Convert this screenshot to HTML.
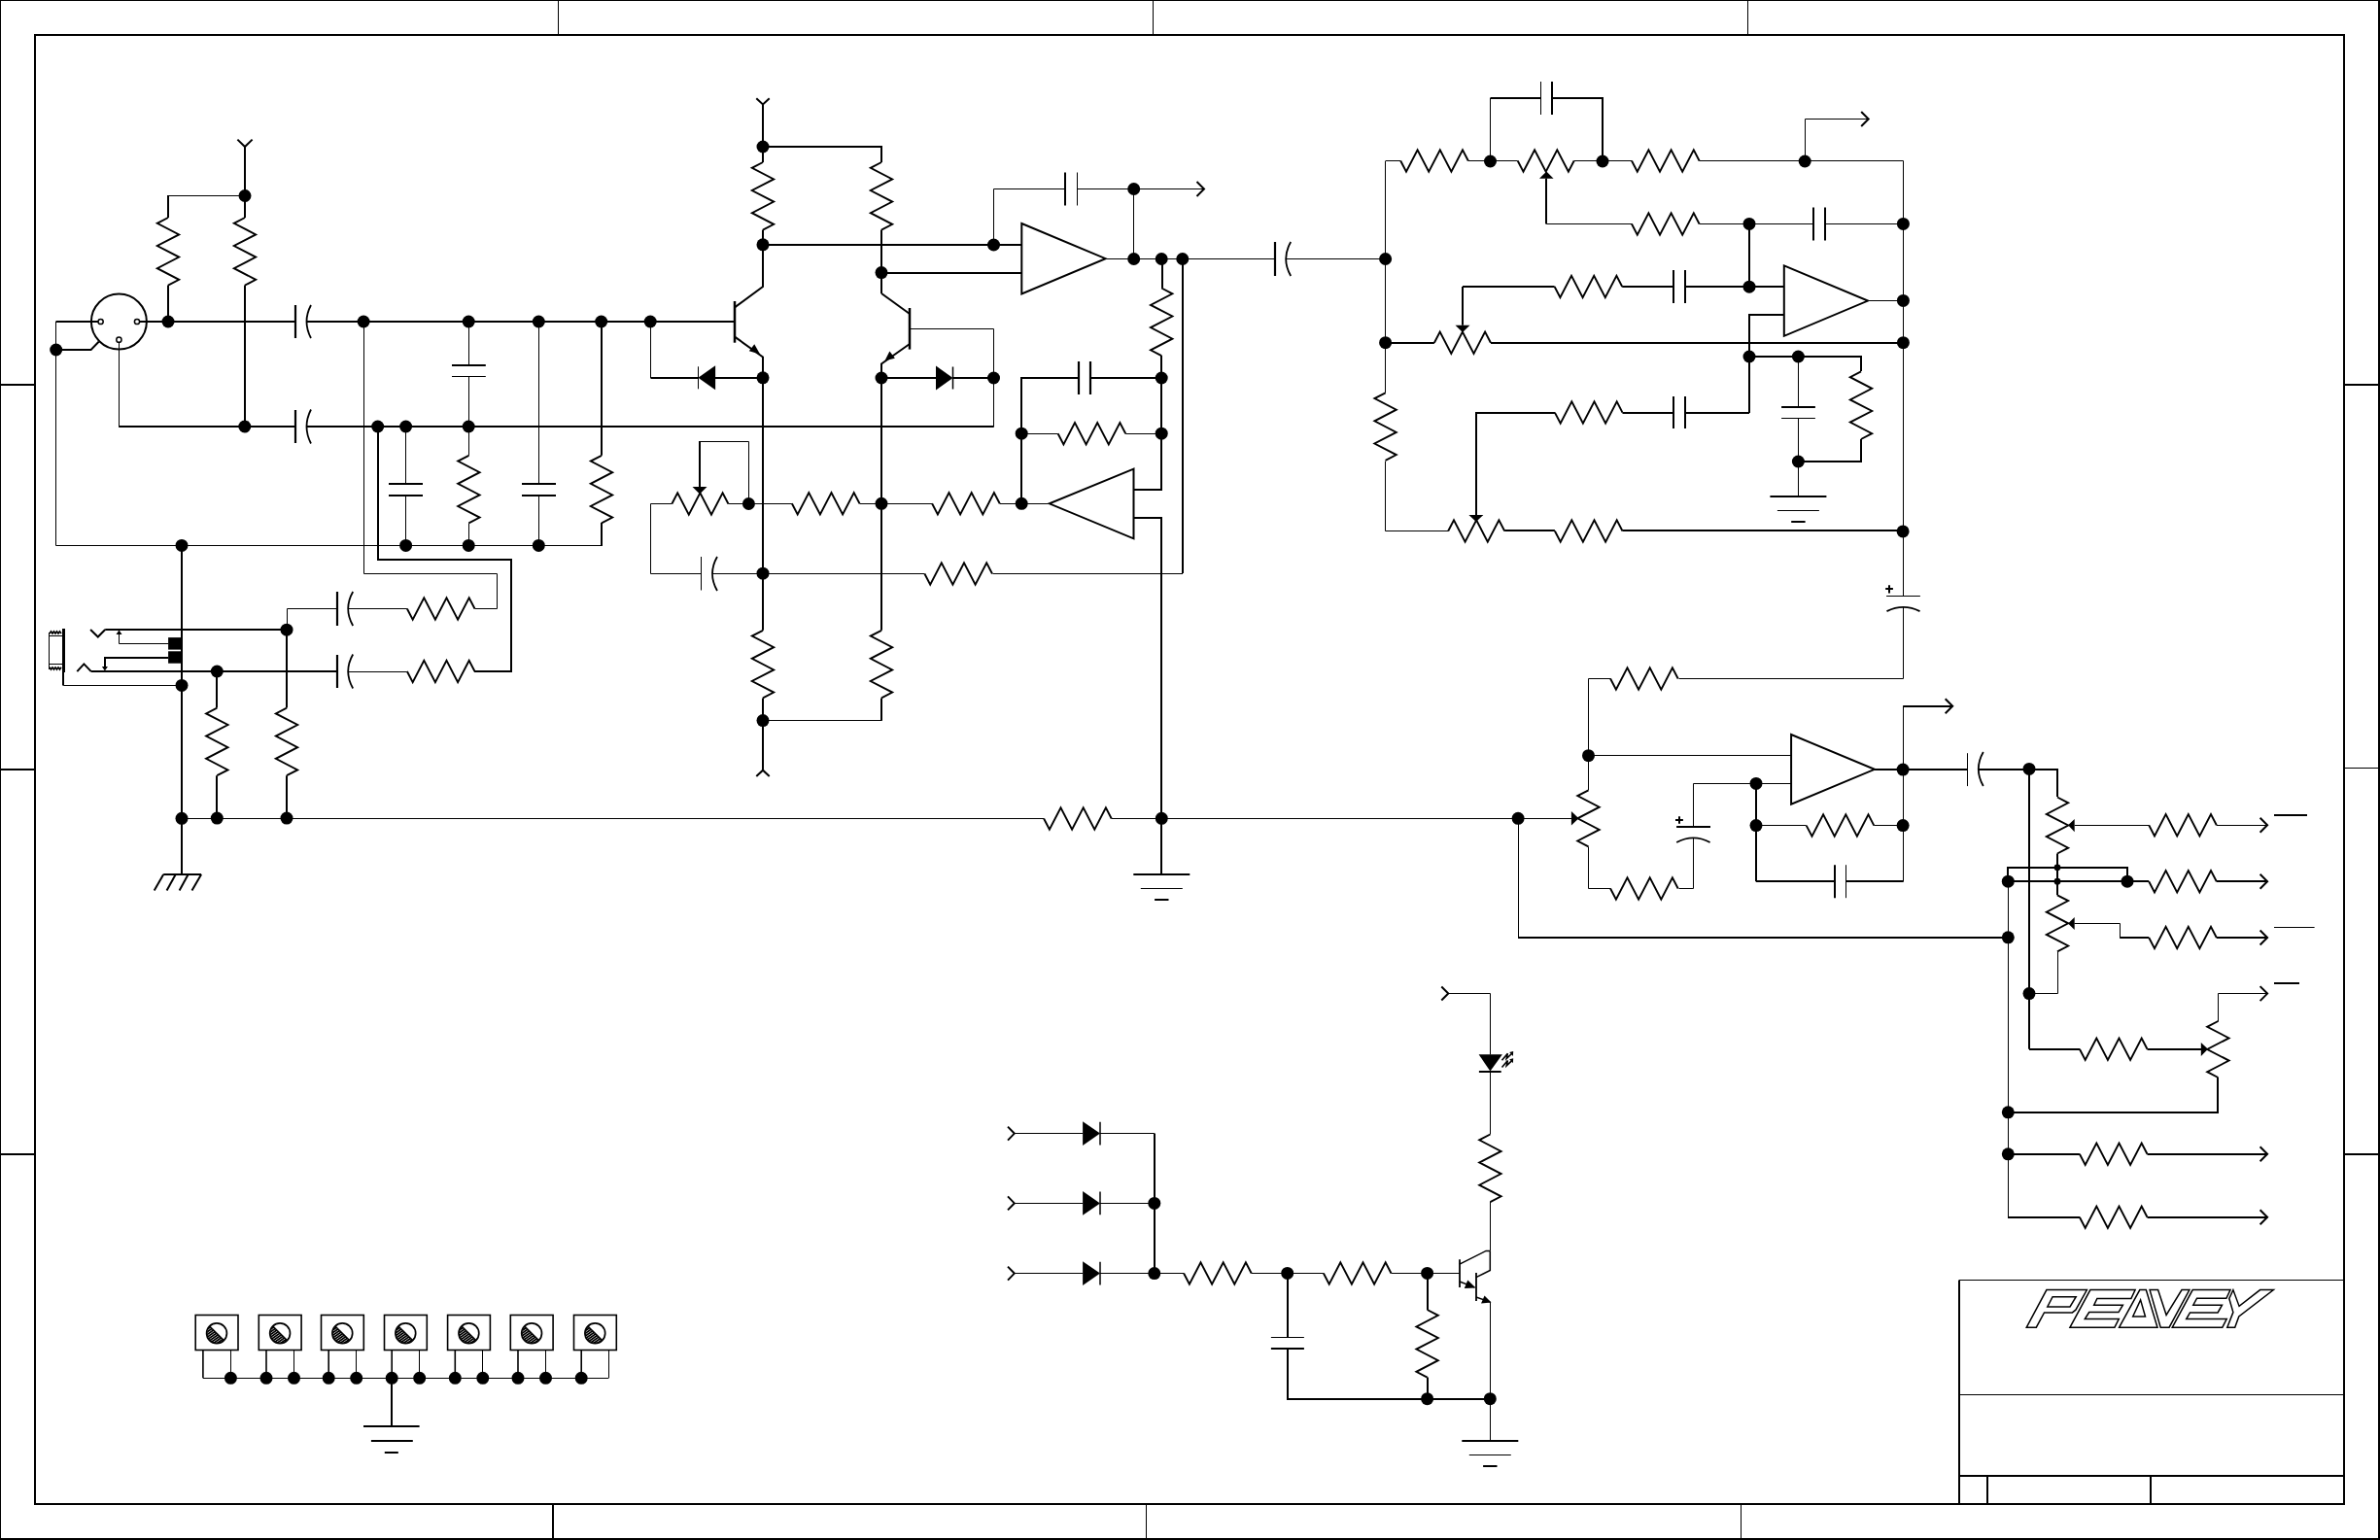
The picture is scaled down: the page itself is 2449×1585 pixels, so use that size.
<!DOCTYPE html>
<html><head><meta charset="utf-8"><title>Schematic</title>
<style>
html,body{margin:0;padding:0;background:#fff;font-family:"Liberation Sans",sans-serif;overflow:hidden;}
svg{display:block;}
</style></head>
<body>
<svg width="2449" height="1585" viewBox="0 0 2449 1585">
<defs>
<pattern id="hatch" patternUnits="userSpaceOnUse" width="2.2" height="2.2" patternTransform="rotate(-35)">
<rect width="2.2" height="2.2" fill="#000"/>
<line x1="0" y1="1.1" x2="2.2" y2="1.1" stroke="#fff" stroke-width="0.5"/>
</pattern>
</defs>
<rect x="0" y="0" width="2449" height="1585" fill="#fff"/>
<g stroke="#000" fill="none" stroke-linecap="butt" stroke-linejoin="miter">
<line x1="0" y1="0.5" x2="2449" y2="0.5" stroke-width="1"/>
<line x1="0.5" y1="0" x2="0.5" y2="1585" stroke-width="1"/>
<line x1="2448" y1="0" x2="2448" y2="1585" stroke-width="2"/>
<line x1="0" y1="1584" x2="2449" y2="1584" stroke-width="2"/>
<rect x="36" y="36" width="2376" height="1512" stroke-width="2" fill="none"/>
<line x1="574.5" y1="0" x2="574.5" y2="36" stroke-width="1"/>
<line x1="1186.5" y1="0" x2="1186.5" y2="36" stroke-width="1"/>
<line x1="1798.5" y1="0" x2="1798.5" y2="36" stroke-width="1"/>
<line x1="569" y1="1548" x2="569" y2="1585" stroke-width="2"/>
<line x1="1179.5" y1="1548" x2="1179.5" y2="1585" stroke-width="1"/>
<line x1="1791.5" y1="1548" x2="1791.5" y2="1585" stroke-width="1"/>
<line x1="0" y1="396" x2="36" y2="396" stroke-width="2"/>
<line x1="0" y1="792" x2="36" y2="792" stroke-width="2"/>
<line x1="0" y1="1188" x2="36" y2="1188" stroke-width="2"/>
<line x1="2412" y1="396" x2="2449" y2="396" stroke-width="2"/>
<line x1="2412" y1="790.5" x2="2449" y2="790.5" stroke-width="1"/>
<line x1="2412" y1="1188" x2="2449" y2="1188" stroke-width="2"/>
<polyline points="244.4,143.6 252,151 259.6,143.6" stroke-width="2"/>
<line x1="252" y1="151" x2="252" y2="224" stroke-width="2"/>
<circle cx="252" cy="201.5" r="6.5" fill="#000" stroke="none"/>
<polyline points="252.5,201.5 173.5,201.5" stroke-width="1"/>
<line x1="173" y1="201" x2="173" y2="224" stroke-width="2"/>
<polyline points="173,224 161.8,229.8 184.2,241.4 161.8,253 184.2,264.6 161.8,276.2 184.2,287.8 173,293.6" stroke-width="1.9"/>
<line x1="173" y1="293.6" x2="173" y2="331" stroke-width="2"/>
<polyline points="252,224 240.8,229.8 263.2,241.4 240.8,253 263.2,264.6 240.8,276.2 263.2,287.8 252,293.6" stroke-width="1.9"/>
<line x1="252" y1="293.6" x2="252" y2="439" stroke-width="2"/>
<circle cx="173" cy="331" r="6.5" fill="#000" stroke="none"/>
<circle cx="122.4" cy="331.1" r="28.5" stroke-width="2" fill="none"/>
<circle cx="103.6" cy="331" r="2.6" stroke-width="1.5" fill="#fff"/>
<circle cx="141" cy="331" r="2.6" stroke-width="1.5" fill="#fff"/>
<circle cx="122.4" cy="349.7" r="2.6" stroke-width="1.5" fill="#fff"/>
<line x1="143.6" y1="331" x2="304" y2="331" stroke-width="2"/>
<line x1="304" y1="314" x2="304" y2="348" stroke-width="2.2"/>
<path d="M320,314 Q311,331 320,348" stroke-width="1.8" fill="none"/>
<line x1="315.5" y1="331" x2="756" y2="331" stroke-width="2"/>
<line x1="101" y1="331" x2="57.5" y2="331" stroke-width="2"/>
<line x1="57.5" y1="331" x2="57.5" y2="561.5" stroke-width="1"/>
<circle cx="57.7" cy="360" r="6.5" fill="#000" stroke="none"/>
<polyline points="57.7,360 93.6,360 101.6,351.8" stroke-width="2"/>
<polyline points="122.5,352.5 122.5,439.5 303.5,439.5" stroke-width="1"/>
<line x1="122.5" y1="439" x2="303.6" y2="439" stroke-width="2"/>
<circle cx="251.8" cy="439" r="6.5" fill="#000" stroke="none"/>
<line x1="304" y1="422" x2="304" y2="456" stroke-width="2.2"/>
<path d="M320,421.5 Q311,439 320,456.5" stroke-width="1.8" fill="none"/>
<line x1="315.5" y1="439" x2="1022.5" y2="439" stroke-width="2"/>
<polyline points="374.5,331.5 374.5,590.5 511.5,590.5 511.5,626.5 488.5,626.5" stroke-width="1"/>
<circle cx="374.1" cy="331" r="6.5" fill="#000" stroke="none"/>
<polyline points="389,439 389,576 526,576 526,691 488,691" stroke-width="2"/>
<circle cx="388.7" cy="439" r="6.5" fill="#000" stroke="none"/>
<circle cx="417.6" cy="439" r="6.5" fill="#000" stroke="none"/>
<line x1="417.5" y1="439" x2="417.5" y2="498" stroke-width="1"/>
<line x1="400" y1="498" x2="435" y2="498" stroke-width="2"/>
<line x1="400" y1="510" x2="435" y2="510" stroke-width="2"/>
<line x1="417.5" y1="510" x2="417.5" y2="561.4" stroke-width="1"/>
<circle cx="417.6" cy="561.4" r="6.5" fill="#000" stroke="none"/>
<circle cx="482.2" cy="331" r="6.5" fill="#000" stroke="none"/>
<line x1="482.5" y1="331" x2="482.5" y2="375.7" stroke-width="1"/>
<line x1="465" y1="376" x2="499.8" y2="376" stroke-width="2"/>
<line x1="465" y1="387.5" x2="499.8" y2="387.5" stroke-width="1"/>
<line x1="482.5" y1="387" x2="482.5" y2="468.8" stroke-width="1"/>
<circle cx="482.2" cy="439" r="6.5" fill="#000" stroke="none"/>
<polyline points="482.4,468.8 471.2,474.6 493.6,486.2 471.2,497.8 493.6,509.4 471.2,521 493.6,532.6 482.4,538.4" stroke-width="1.9"/>
<line x1="482.5" y1="538.4" x2="482.5" y2="561.4" stroke-width="1"/>
<circle cx="482.2" cy="561.4" r="6.5" fill="#000" stroke="none"/>
<circle cx="554.3" cy="331" r="6.5" fill="#000" stroke="none"/>
<line x1="554.5" y1="331" x2="554.5" y2="498" stroke-width="1"/>
<line x1="537" y1="498" x2="572" y2="498" stroke-width="2"/>
<line x1="537" y1="510" x2="572" y2="510" stroke-width="2"/>
<line x1="554.5" y1="510" x2="554.5" y2="561.4" stroke-width="1"/>
<circle cx="554.3" cy="561.4" r="6.5" fill="#000" stroke="none"/>
<circle cx="618.7" cy="331" r="6.5" fill="#000" stroke="none"/>
<line x1="619" y1="331" x2="619" y2="468.8" stroke-width="2"/>
<polyline points="619,468.8 607.8,474.6 630.2,486.2 607.8,497.8 630.2,509.4 607.8,521 630.2,532.6 619,538.4" stroke-width="1.9"/>
<polyline points="619,538 619,562" stroke-width="2"/>
<line x1="57.5" y1="561.5" x2="619" y2="561.5" stroke-width="1"/>
<circle cx="187" cy="561.4" r="6.5" fill="#000" stroke="none"/>
<circle cx="669.2" cy="331" r="6.5" fill="#000" stroke="none"/>
<line x1="669.5" y1="331" x2="669.5" y2="389" stroke-width="1"/>
<line x1="669.5" y1="389" x2="718.4" y2="389" stroke-width="2"/>
<polygon points="736.1,376.3 718.4,388.8 736.1,401.3" fill="#000" stroke="none"/>
<line x1="718.5" y1="377.3" x2="718.5" y2="400.3" stroke-width="1"/>
<line x1="736" y1="389" x2="785" y2="389" stroke-width="2"/>
<circle cx="785" cy="388.8" r="6.5" fill="#000" stroke="none"/>
<line x1="756" y1="310" x2="756" y2="352.7" stroke-width="2.5"/>
<polyline points="756,316.4 785,295 785,251.8" stroke-width="2"/>
<polyline points="756,346.6 785,367.4 785,388.8" stroke-width="2"/>
<polygon points="782,364.6 770.8,361.3 776.3,354.3" fill="#000" stroke="none"/>
<line x1="785" y1="388.8" x2="785" y2="648.8" stroke-width="2"/>
<circle cx="785" cy="590.2" r="6.5" fill="#000" stroke="none"/>
<polyline points="785,648.8 773.8,654.6 796.2,666.2 773.8,677.8 796.2,689.4 773.8,701 796.2,712.6 785,718.4" stroke-width="1.9"/>
<line x1="785" y1="718.4" x2="785" y2="792.2" stroke-width="2"/>
<circle cx="785" cy="741.6" r="6.5" fill="#000" stroke="none"/>
<polyline points="778.3,799 785,792.7 791.7,799" stroke-width="2"/>
<polyline points="785.5,741.5 907.5,741.5 907.5,718.5" stroke-width="1"/>
<line x1="907" y1="718.4" x2="907" y2="741.6" stroke-width="2"/>
<polyline points="907,648.8 895.8,654.6 918.2,666.2 895.8,677.8 918.2,689.4 895.8,701 918.2,712.6 907,718.4" stroke-width="1.9"/>
<polyline points="778.3,101.2 785,107.5 791.7,101.2" stroke-width="2"/>
<line x1="785" y1="108" x2="785" y2="167" stroke-width="2"/>
<circle cx="785" cy="151" r="6.5" fill="#000" stroke="none"/>
<polyline points="785,167 773.8,172.8 796.2,184.4 773.8,196 796.2,207.6 773.8,219.2 796.2,230.8 785,236.6" stroke-width="1.9"/>
<line x1="785" y1="236.6" x2="785" y2="295" stroke-width="2"/>
<circle cx="785" cy="251.8" r="6.5" fill="#000" stroke="none"/>
<polyline points="785,151 907,151 907,167" stroke-width="2"/>
<polyline points="907,167 895.8,172.8 918.2,184.4 895.8,196 918.2,207.6 895.8,219.2 918.2,230.8 907,236.6" stroke-width="1.9"/>
<line x1="907" y1="236.6" x2="907" y2="302" stroke-width="2"/>
<circle cx="907" cy="280.6" r="6.5" fill="#000" stroke="none"/>
<line x1="936" y1="317" x2="936" y2="359.6" stroke-width="2.5"/>
<polyline points="907,302 936,323" stroke-width="2"/>
<polyline points="936,354 907,374.5 907,389" stroke-width="2"/>
<polygon points="910.5,371.3 915.4,361.6 920.9,368.7" fill="#000" stroke="none"/>
<polyline points="936.5,338.5 1022.5,338.5 1022.5,439.5" stroke-width="1"/>
<circle cx="907" cy="389" r="6.5" fill="#000" stroke="none"/>
<line x1="907" y1="389" x2="963" y2="389" stroke-width="2"/>
<polygon points="963,376.5 980.5,389 963,401.5" fill="#000" stroke="none"/>
<line x1="980.5" y1="377.5" x2="980.5" y2="400.5" stroke-width="1.5"/>
<line x1="980.5" y1="389" x2="1022.5" y2="389" stroke-width="2"/>
<circle cx="1022.5" cy="389" r="6.5" fill="#000" stroke="none"/>
<line x1="907" y1="389" x2="907" y2="648.8" stroke-width="2"/>
<circle cx="907" cy="518.3" r="6.5" fill="#000" stroke="none"/>
<circle cx="1022.5" cy="252" r="6.5" fill="#000" stroke="none"/>
<line x1="785" y1="252" x2="1051.3" y2="252" stroke-width="2"/>
<line x1="907" y1="281" x2="1051.3" y2="281" stroke-width="2"/>
<polygon points="1051.3,230 1137.6,266.2 1051.3,302.4" stroke-width="2"/>
<polyline points="1022.5,252.5 1022.5,194.5 1096.5,194.5" stroke-width="1"/>
<line x1="1096" y1="177.5" x2="1096" y2="211.5" stroke-width="2"/>
<line x1="1108.5" y1="177.5" x2="1108.5" y2="211.5" stroke-width="1"/>
<line x1="1108" y1="194.5" x2="1239" y2="194.5" stroke-width="1"/>
<polyline points="1231.5,187 1239,194.5 1231.5,202" stroke-width="2"/>
<circle cx="1166.7" cy="194.5" r="6.5" fill="#000" stroke="none"/>
<line x1="1166.5" y1="194.5" x2="1166.5" y2="266.5" stroke-width="1"/>
<line x1="1137.6" y1="266.5" x2="1312" y2="266.5" stroke-width="1"/>
<circle cx="1166.7" cy="266.5" r="6.5" fill="#000" stroke="none"/>
<circle cx="1195.2" cy="266.5" r="6.5" fill="#000" stroke="none"/>
<circle cx="1216.8" cy="266.5" r="6.5" fill="#000" stroke="none"/>
<line x1="1312" y1="249" x2="1312" y2="284" stroke-width="2.2"/>
<path d="M1328.2,249 Q1318.2,266.5 1328.2,284" stroke-width="1.8" fill="none"/>
<line x1="1323" y1="266.5" x2="1425.6" y2="266.5" stroke-width="1"/>
<circle cx="1425.6" cy="266.5" r="6.5" fill="#000" stroke="none"/>
<line x1="1196" y1="266.5" x2="1196" y2="296.5" stroke-width="2"/>
<polyline points="1195.2,296.5 1206.4,302.3 1184,313.9 1206.4,325.5 1184,337.1 1206.4,348.7 1184,360.3 1195.2,366.1" stroke-width="1.9"/>
<polyline points="1195,366 1195,504 1166,504" stroke-width="2"/>
<circle cx="1195.2" cy="389" r="6.5" fill="#000" stroke="none"/>
<circle cx="1195.2" cy="446.2" r="6.5" fill="#000" stroke="none"/>
<polyline points="1217,266 1217,590" stroke-width="2"/>
<line x1="1217" y1="590.5" x2="1021.5" y2="590.5" stroke-width="1"/>
<polyline points="951.4,590.5 957.2,601.7 968.8,579.3 980.4,601.7 992,579.3 1003.6,601.7 1015.2,579.3 1021,590.5" stroke-width="1.9"/>
<line x1="951.4" y1="590.5" x2="785" y2="590.5" stroke-width="1"/>
<polygon points="1166.5,482.6 1079.8,518.3 1166.5,554.3" stroke-width="2"/>
<polyline points="1166,533 1195,533 1195,842" stroke-width="2"/>
<line x1="1051.2" y1="518.5" x2="1079.8" y2="518.5" stroke-width="1"/>
<circle cx="1051.2" cy="518.3" r="6.5" fill="#000" stroke="none"/>
<polyline points="959.1,518.3 964.9,529.5 976.5,507.1 988.1,529.5 999.7,507.1 1011.3,529.5 1022.9,507.1 1028.7,518.3" stroke-width="1.9"/>
<line x1="1028.7" y1="518.5" x2="1051.2" y2="518.5" stroke-width="1"/>
<line x1="907" y1="518.5" x2="959.1" y2="518.5" stroke-width="1"/>
<polyline points="814.9,518.3 820.7,529.5 832.3,507.1 843.9,529.5 855.5,507.1 867.1,529.5 878.7,507.1 884.5,518.3" stroke-width="1.9"/>
<line x1="884.5" y1="518.5" x2="907" y2="518.5" stroke-width="1"/>
<line x1="770.4" y1="518.5" x2="814.9" y2="518.5" stroke-width="1"/>
<circle cx="770.4" cy="518.5" r="6.5" fill="#000" stroke="none"/>
<polyline points="1051,518 1051,389 1110,389" stroke-width="2"/>
<circle cx="1051.2" cy="446.2" r="6.5" fill="#000" stroke="none"/>
<line x1="1110" y1="372" x2="1110" y2="406" stroke-width="2.2"/>
<line x1="1122" y1="372" x2="1122" y2="406" stroke-width="2.2"/>
<line x1="1122" y1="389" x2="1195.2" y2="389" stroke-width="2"/>
<polyline points="1088.6,446.2 1094.4,457.4 1106,435 1117.6,457.4 1129.2,435 1140.8,457.4 1152.4,435 1158.2,446.2" stroke-width="1.9"/>
<line x1="1051.2" y1="446.5" x2="1088.6" y2="446.5" stroke-width="1"/>
<line x1="1158.2" y1="446.5" x2="1195.2" y2="446.5" stroke-width="1"/>
<polyline points="691.4,518.5 697.2,507.3 708.8,529.7 720.4,507.3 732,529.7 743.6,507.3 749.4,518.5" stroke-width="1.9"/>
<line x1="749.4" y1="518.5" x2="770.4" y2="518.5" stroke-width="1"/>
<polygon points="712.5,501 727.5,501 720,508.5" fill="#000" stroke="none"/>
<polyline points="720.5,501.5 720.5,454.5 770.5,454.5 770.5,518.5" stroke-width="1"/>
<line x1="720" y1="501" x2="720" y2="454" stroke-width="2"/>
<polyline points="691.5,518.5 669.5,518.5 669.5,590.5 721.5,590.5" stroke-width="1"/>
<line x1="721.5" y1="573" x2="721.5" y2="607.5" stroke-width="1"/>
<path d="M738,573 Q728,590.5 738,608" stroke-width="1.8" fill="none"/>
<line x1="733" y1="590.5" x2="785" y2="590.5" stroke-width="1"/>
<line x1="187" y1="561.4" x2="187" y2="900" stroke-width="2"/>
<circle cx="187" cy="705.4" r="6.5" fill="#000" stroke="none"/>
<circle cx="187" cy="842.3" r="6.5" fill="#000" stroke="none"/>
<line x1="168.2" y1="900" x2="207.1" y2="900" stroke-width="2"/>
<line x1="168.2" y1="900" x2="158.7" y2="916.4" stroke-width="2"/>
<line x1="180.7" y1="900" x2="171.6" y2="916.4" stroke-width="2"/>
<line x1="193.6" y1="900" x2="184.6" y2="916.4" stroke-width="2"/>
<line x1="207.1" y1="900" x2="197.5" y2="916.4" stroke-width="2"/>
<line x1="65.5" y1="647" x2="65.5" y2="692" stroke-width="3"/>
<polyline points="65.5,654.5 50.5,654.5 50.5,683.5 65.5,683.5" stroke-width="1"/>
<polyline points="51,652 52.5,649.8 54,652 55.5,649.8 57,652 58.5,649.8 60,652 61.5,649.8 63,652" stroke-width="1.6"/>
<polyline points="51,686.8 52.5,689 54,686.8 55.5,689 57,686.8 58.5,689 60,686.8 61.5,689 63,686.8" stroke-width="1.6"/>
<line x1="50.5" y1="651" x2="50.5" y2="689" stroke-width="1"/>
<polyline points="65.5,691.5 65.5,705.5 187.5,705.5" stroke-width="1"/>
<line x1="65" y1="691.8" x2="65" y2="705.4" stroke-width="2"/>
<polyline points="93.1,648 100.8,655.5 108.2,648" stroke-width="2"/>
<line x1="108.2" y1="648" x2="295" y2="648" stroke-width="2"/>
<polyline points="122.5,649.5 122.5,662.5 173.5,662.5" stroke-width="1"/>
<polygon points="122.5,648.5 119.5,653 125.5,653" fill="#000" stroke="none"/>
<rect x="173.1" y="656.1" width="13.1" height="12.5" fill="#000" stroke="none"/>
<rect x="173.1" y="670.3" width="13.1" height="12.4" fill="#000" stroke="none"/>
<polyline points="173,677 108,677 108,689" stroke-width="2"/>
<polygon points="107.9,690.5 104.9,686 110.9,686" fill="#000" stroke="none"/>
<polyline points="79.3,691.1 86.4,683.4 93.8,691.1" stroke-width="2"/>
<line x1="93.8" y1="691" x2="346.7" y2="691" stroke-width="2"/>
<circle cx="295" cy="648.2" r="6.5" fill="#000" stroke="none"/>
<polyline points="295.5,648.5 295.5,626.5 346.5,626.5" stroke-width="1"/>
<line x1="347" y1="609" x2="347" y2="644" stroke-width="2.2"/>
<path d="M363.2,609 Q353.2,626.5 363.2,644" stroke-width="1.8" fill="none"/>
<line x1="358.3" y1="626.5" x2="418.9" y2="626.5" stroke-width="1"/>
<polyline points="418.9,626.5 424.7,637.7 436.3,615.3 447.9,637.7 459.5,615.3 471.1,637.7 482.7,615.3 488.5,626.5" stroke-width="1.9"/>
<circle cx="223.3" cy="691" r="6.5" fill="#000" stroke="none"/>
<line x1="347" y1="674" x2="347" y2="708" stroke-width="2.2"/>
<path d="M363.2,673.5 Q353.2,691 363.2,708.5" stroke-width="1.8" fill="none"/>
<line x1="358.3" y1="691.5" x2="418.9" y2="691.5" stroke-width="1"/>
<polyline points="418.9,691 424.7,702.2 436.3,679.8 447.9,702.2 459.5,679.8 471.1,702.2 482.7,679.8 488.5,691" stroke-width="1.9"/>
<line x1="223" y1="691" x2="223" y2="728.6" stroke-width="2"/>
<polyline points="223.3,728.6 212.1,734.4 234.5,746 212.1,757.6 234.5,769.2 212.1,780.8 234.5,792.4 223.3,798.2" stroke-width="1.9"/>
<line x1="223" y1="798.2" x2="223" y2="842.1" stroke-width="2"/>
<circle cx="223.3" cy="842.1" r="6.5" fill="#000" stroke="none"/>
<line x1="295" y1="648.2" x2="295" y2="728.6" stroke-width="2"/>
<polyline points="295,728.6 283.8,734.4 306.2,746 283.8,757.6 306.2,769.2 283.8,780.8 306.2,792.4 295,798.2" stroke-width="1.9"/>
<line x1="295" y1="798.2" x2="295" y2="842.1" stroke-width="2"/>
<circle cx="295" cy="842.1" r="6.5" fill="#000" stroke="none"/>
<line x1="187.5" y1="842.5" x2="1074.1" y2="842.5" stroke-width="1"/>
<polyline points="1074.1,842.5 1079.9,853.7 1091.5,831.3 1103.1,853.7 1114.7,831.3 1126.3,853.7 1137.9,831.3 1143.7,842.5" stroke-width="1.9"/>
<line x1="1143.7" y1="842.5" x2="1562.1" y2="842.5" stroke-width="1"/>
<circle cx="1195.3" cy="842.3" r="6.5" fill="#000" stroke="none"/>
<circle cx="1562.1" cy="842.3" r="6.5" fill="#000" stroke="none"/>
<line x1="1195" y1="842.1" x2="1195" y2="900" stroke-width="2"/>
<line x1="1166.3" y1="900" x2="1224.3" y2="900" stroke-width="2"/>
<line x1="1173.8" y1="914.5" x2="1216.8" y2="914.5" stroke-width="1"/>
<line x1="1188.1" y1="926" x2="1202.5" y2="926" stroke-width="2"/>
<line x1="1425.5" y1="166" x2="1425.5" y2="404.3" stroke-width="1"/>
<circle cx="1425.6" cy="352.7" r="6.5" fill="#000" stroke="none"/>
<polyline points="1425.6,404.3 1414.4,410.1 1436.8,421.7 1414.4,433.3 1436.8,444.9 1414.4,456.5 1436.8,468.1 1425.6,473.9" stroke-width="1.9"/>
<polyline points="1425.5,474.5 1425.5,546.5 1490.5,546.5" stroke-width="1"/>
<line x1="1425.5" y1="165.5" x2="1441.2" y2="165.5" stroke-width="1"/>
<polyline points="1441.2,165.5 1447,176.7 1458.6,154.3 1470.2,176.7 1481.8,154.3 1493.4,176.7 1505,154.3 1510.8,165.5" stroke-width="1.9"/>
<line x1="1510.8" y1="165.5" x2="1561.7" y2="165.5" stroke-width="1"/>
<circle cx="1533.5" cy="166" r="6.5" fill="#000" stroke="none"/>
<line x1="1533.5" y1="166" x2="1533.5" y2="101" stroke-width="1"/>
<line x1="1533.5" y1="101" x2="1585.8" y2="101" stroke-width="2"/>
<line x1="1585.5" y1="84" x2="1585.5" y2="118" stroke-width="1"/>
<line x1="1597" y1="84" x2="1597" y2="118" stroke-width="2"/>
<polyline points="1597,101 1649,101 1649,166" stroke-width="2"/>
<circle cx="1649" cy="166" r="6.5" fill="#000" stroke="none"/>
<polyline points="1561.7,165.5 1567.5,176.7 1579.1,154.3 1590.7,176.7 1602.3,154.3 1613.9,176.7 1619.7,165.5" stroke-width="1.9"/>
<polygon points="1591.3,176.5 1584,183.7 1598.6,183.7" fill="#000" stroke="none"/>
<polyline points="1591.5,183.5 1591.5,230.5 1679.5,230.5" stroke-width="1"/>
<line x1="1591" y1="183.7" x2="1591" y2="230.5" stroke-width="2"/>
<line x1="1619.7" y1="165.5" x2="1679" y2="165.5" stroke-width="1"/>
<polyline points="1679,165.5 1684.8,176.7 1696.4,154.3 1708,176.7 1719.6,154.3 1731.2,176.7 1742.8,154.3 1748.6,165.5" stroke-width="1.9"/>
<polyline points="1748.5,165.5 1958.5,165.5 1958.5,613.5" stroke-width="1"/>
<circle cx="1857.2" cy="166" r="6.5" fill="#000" stroke="none"/>
<polyline points="1857.5,166.5 1857.5,122.5 1922.5,122.5" stroke-width="1"/>
<polyline points="1915.2,115 1922.7,122.5 1915.2,130" stroke-width="2"/>
<polyline points="1679,230.5 1684.8,241.7 1696.4,219.3 1708,241.7 1719.6,219.3 1731.2,241.7 1742.8,219.3 1748.6,230.5" stroke-width="1.9"/>
<line x1="1748.6" y1="230.5" x2="1866" y2="230.5" stroke-width="1"/>
<line x1="1866" y1="213.5" x2="1866" y2="247.5" stroke-width="2"/>
<line x1="1878" y1="213.5" x2="1878" y2="247.5" stroke-width="2"/>
<line x1="1878" y1="230.5" x2="1958.4" y2="230.5" stroke-width="1"/>
<circle cx="1800" cy="230.4" r="6.5" fill="#000" stroke="none"/>
<circle cx="1958.4" cy="230.4" r="6.5" fill="#000" stroke="none"/>
<line x1="1800" y1="230.4" x2="1800" y2="295.2" stroke-width="2"/>
<circle cx="1800" cy="295.2" r="6.5" fill="#000" stroke="none"/>
<line x1="1505" y1="295" x2="1599.6" y2="295" stroke-width="2"/>
<polyline points="1599.6,295 1605.4,306.2 1617,283.8 1628.6,306.2 1640.2,283.8 1651.8,306.2 1663.4,283.8 1669.2,295" stroke-width="1.9"/>
<line x1="1669.2" y1="295" x2="1722" y2="295" stroke-width="2"/>
<line x1="1722" y1="278" x2="1722" y2="312" stroke-width="2"/>
<line x1="1734" y1="278" x2="1734" y2="312" stroke-width="2"/>
<line x1="1734" y1="295" x2="1835.8" y2="295" stroke-width="2"/>
<polygon points="1835.8,273.4 1922,309.6 1835.8,345.8" stroke-width="2"/>
<line x1="1922" y1="309.5" x2="1958.4" y2="309.5" stroke-width="1"/>
<circle cx="1958.4" cy="309.4" r="6.5" fill="#000" stroke="none"/>
<polyline points="1836,324 1800,324 1800,425" stroke-width="2"/>
<line x1="1425.6" y1="353" x2="1475.9" y2="353" stroke-width="2"/>
<polyline points="1475.9,352.7 1481.7,341.5 1493.3,363.9 1504.9,341.5 1516.5,363.9 1528.1,341.5 1533.9,352.7" stroke-width="1.9"/>
<polygon points="1497.5,334.8 1512.5,334.8 1505,342" fill="#000" stroke="none"/>
<line x1="1505" y1="334.8" x2="1505" y2="295" stroke-width="2"/>
<line x1="1534" y1="353" x2="1958.4" y2="353" stroke-width="2"/>
<circle cx="1958.4" cy="352.7" r="6.5" fill="#000" stroke="none"/>
<circle cx="1800" cy="367" r="6.5" fill="#000" stroke="none"/>
<circle cx="1850.4" cy="367" r="6.5" fill="#000" stroke="none"/>
<polyline points="1800,367 1915,367 1915,382" stroke-width="2"/>
<polyline points="1915,382.4 1903.8,388.2 1926.2,399.8 1903.8,411.4 1926.2,423 1903.8,434.6 1926.2,446.2 1915,452" stroke-width="1.9"/>
<polyline points="1915,452 1915,475 1850,475" stroke-width="2"/>
<circle cx="1850.4" cy="475" r="6.5" fill="#000" stroke="none"/>
<line x1="1850.5" y1="367" x2="1850.5" y2="419" stroke-width="1"/>
<line x1="1833.1" y1="419" x2="1867.9" y2="419" stroke-width="2"/>
<line x1="1833.1" y1="430.5" x2="1867.9" y2="430.5" stroke-width="1"/>
<line x1="1850.5" y1="430.4" x2="1850.5" y2="510.8" stroke-width="1"/>
<line x1="1821.4" y1="511" x2="1879.4" y2="511" stroke-width="2"/>
<line x1="1828.9" y1="525.5" x2="1871.9" y2="525.5" stroke-width="1"/>
<line x1="1843.2" y1="537" x2="1857.6" y2="537" stroke-width="2"/>
<polyline points="1800,425 1734,425" stroke-width="2"/>
<line x1="1722" y1="408.1" x2="1722" y2="441.1" stroke-width="2"/>
<line x1="1734" y1="408.1" x2="1734" y2="441.1" stroke-width="2"/>
<line x1="1721.7" y1="425" x2="1669.5" y2="425" stroke-width="2"/>
<polyline points="1599.9,424.6 1605.7,435.8 1617.3,413.4 1628.9,435.8 1640.5,413.4 1652.1,435.8 1663.7,413.4 1669.5,424.6" stroke-width="1.9"/>
<polyline points="1600,425 1519,425 1519,530" stroke-width="2"/>
<polygon points="1511.4,529.9 1526.4,529.9 1518.9,537" fill="#000" stroke="none"/>
<polyline points="1490.2,546.5 1496,535.3 1507.6,557.7 1519.2,535.3 1530.8,557.7 1542.4,535.3 1548.2,546.5" stroke-width="1.9"/>
<line x1="1548.2" y1="546" x2="1599.9" y2="546" stroke-width="2"/>
<polyline points="1599.9,546.5 1605.7,557.7 1617.3,535.3 1628.9,557.7 1640.5,535.3 1652.1,557.7 1663.7,535.3 1669.5,546.5" stroke-width="1.9"/>
<line x1="1669.5" y1="546" x2="1958.4" y2="546" stroke-width="2"/>
<circle cx="1958.1" cy="546.9" r="6.5" fill="#000" stroke="none"/>
<line x1="1940.2" y1="606" x2="1947.9" y2="606" stroke-width="2"/>
<line x1="1944" y1="602.2" x2="1944" y2="610.6" stroke-width="2"/>
<line x1="1941.1" y1="613.5" x2="1975.9" y2="613.5" stroke-width="1"/>
<path d="M1941.5,629.1 Q1958.5,620.7 1975.5,629.1" stroke-width="1.9" fill="none"/>
<polyline points="1958.5,624.5 1958.5,698.5 1727.5,698.5" stroke-width="1"/>
<polyline points="1657.1,698.5 1662.9,709.7 1674.5,687.3 1686.1,709.7 1697.7,687.3 1709.3,709.7 1720.9,687.3 1726.7,698.5" stroke-width="1.9"/>
<polyline points="1657.5,698.5 1634.5,698.5 1634.5,777.5" stroke-width="1"/>
<circle cx="1634.5" cy="777.7" r="6.5" fill="#000" stroke="none"/>
<line x1="1634.5" y1="777.5" x2="1843.1" y2="777.5" stroke-width="1"/>
<polygon points="1843.1,756 1928.9,791.85 1843.1,827.7" stroke-width="2"/>
<line x1="1928.9" y1="792" x2="2024.4" y2="792" stroke-width="2"/>
<circle cx="1958.1" cy="792.1" r="6.5" fill="#000" stroke="none"/>
<polyline points="1843.5,806.5 1742.5,806.5 1742.5,850.5" stroke-width="1"/>
<circle cx="1807" cy="806.4" r="6.5" fill="#000" stroke="none"/>
<line x1="1724" y1="844" x2="1731.9" y2="844" stroke-width="2"/>
<line x1="1728" y1="840.2" x2="1728" y2="847.8" stroke-width="2"/>
<line x1="1725.1" y1="851" x2="1760" y2="851" stroke-width="2"/>
<path d="M1725.2,867 Q1742.5,857.8 1759.6,867" stroke-width="1.9" fill="none"/>
<polyline points="1742.5,862.5 1742.5,914.5 1727.5,914.5" stroke-width="1"/>
<polyline points="1657.1,914.5 1662.9,925.7 1674.5,903.3 1686.1,925.7 1697.7,903.3 1709.3,925.7 1720.9,903.3 1726.7,914.5" stroke-width="1.9"/>
<polyline points="1657.5,914.5 1634.5,914.5 1634.5,871.5" stroke-width="1"/>
<line x1="1634.5" y1="777.7" x2="1634.5" y2="813.3" stroke-width="1"/>
<polyline points="1634.5,813.3 1623.3,819.1 1645.7,830.7 1623.3,842.3 1645.7,853.9 1623.3,865.5 1634.5,871.3" stroke-width="1.9"/>
<polygon points="1624.5,842.3 1616.9,835 1616.9,849.6" fill="#000" stroke="none"/>
<line x1="1562.1" y1="842.5" x2="1617" y2="842.5" stroke-width="1"/>
<polyline points="1562.5,842.5 1562.5,965.5 2066.5,965.5" stroke-width="1"/>
<line x1="1562.1" y1="965" x2="2066.3" y2="965" stroke-width="2"/>
<line x1="1807" y1="806.4" x2="1807" y2="907.2" stroke-width="2"/>
<circle cx="1807" cy="849.6" r="6.5" fill="#000" stroke="none"/>
<polyline points="1807,907 1888,907" stroke-width="2"/>
<line x1="1888" y1="890.2" x2="1888" y2="924.2" stroke-width="2"/>
<line x1="1899.5" y1="890.2" x2="1899.5" y2="924.2" stroke-width="1"/>
<polyline points="1899.5,907.5 1958.5,907.5 1958.5,726.5 2009.5,726.5" stroke-width="1"/>
<polyline points="1900,907 1958,907" stroke-width="2"/>
<line x1="1958.5" y1="727" x2="2009.2" y2="727" stroke-width="2"/>
<polyline points="2001.7,719.3 2009.2,726.8 2001.7,734.3" stroke-width="2"/>
<circle cx="1958.1" cy="849.6" r="6.5" fill="#000" stroke="none"/>
<line x1="1807" y1="849.5" x2="1858.7" y2="849.5" stroke-width="1"/>
<polyline points="1858.7,849.6 1864.5,860.8 1876.1,838.4 1887.7,860.8 1899.3,838.4 1910.9,860.8 1922.5,838.4 1928.3,849.6" stroke-width="1.9"/>
<line x1="1928.3" y1="849.5" x2="1958.1" y2="849.5" stroke-width="1"/>
<line x1="2024.5" y1="775.2" x2="2024.5" y2="809.1" stroke-width="1"/>
<path d="M2040.8,774 Q2030.8,791.5 2040.8,809" stroke-width="1.8" fill="none"/>
<polyline points="2036,792 2117,792 2117,820" stroke-width="2"/>
<circle cx="2088" cy="791.4" r="6.5" fill="#000" stroke="none"/>
<polyline points="2117,820.5 2128.2,826.3 2105.8,837.9 2128.2,849.5 2105.8,861.1 2128.2,872.7 2117,878.5" stroke-width="1.9"/>
<polygon points="2128,849.2 2134.7,843 2134.7,856.3" fill="#000" stroke="none"/>
<line x1="2134.7" y1="849.5" x2="2211.2" y2="849.5" stroke-width="1"/>
<polyline points="2211.2,849.2 2217,860.4 2228.6,838 2240.2,860.4 2251.8,838 2263.4,860.4 2275,838 2280.8,849.2" stroke-width="1.9"/>
<line x1="2280.8" y1="849.5" x2="2333.1" y2="849.5" stroke-width="1"/>
<polyline points="2325.6,841.7 2333.1,849.2 2325.6,856.7" stroke-width="2"/>
<line x1="2340" y1="839" x2="2374" y2="839" stroke-width="2"/>
<line x1="2117" y1="878.5" x2="2117" y2="921.3" stroke-width="2"/>
<circle cx="2117" cy="892.8" r="3.4" fill="#000" stroke="none"/>
<circle cx="2117" cy="907.2" r="3.4" fill="#000" stroke="none"/>
<polyline points="2066,907 2066,893 2189,893 2189,907" stroke-width="2"/>
<line x1="2066.3" y1="907" x2="2211.2" y2="907" stroke-width="2"/>
<circle cx="2066.3" cy="907.2" r="6.5" fill="#000" stroke="none"/>
<circle cx="2189" cy="907.2" r="6.5" fill="#000" stroke="none"/>
<polyline points="2211.2,907.2 2217,918.4 2228.6,896 2240.2,918.4 2251.8,896 2263.4,918.4 2275,896 2280.8,907.2" stroke-width="1.9"/>
<line x1="2280.8" y1="907" x2="2333.1" y2="907" stroke-width="2"/>
<polyline points="2325.6,899.7 2333.1,907.2 2325.6,914.7" stroke-width="2"/>
<polyline points="2117,921.3 2128.2,927.1 2105.8,938.7 2128.2,950.3 2105.8,961.9 2128.2,973.5 2117,979.3" stroke-width="1.9"/>
<polygon points="2128,950.4 2134.7,944 2134.7,957" fill="#000" stroke="none"/>
<polyline points="2134.5,950.5 2181.5,950.5 2181.5,965.5 2211.5,965.5" stroke-width="1"/>
<line x1="2181.5" y1="965" x2="2211.2" y2="965" stroke-width="2"/>
<polyline points="2211.2,965 2217,976.2 2228.6,953.8 2240.2,976.2 2251.8,953.8 2263.4,976.2 2275,953.8 2280.8,965" stroke-width="1.9"/>
<line x1="2280.8" y1="965" x2="2333.1" y2="965" stroke-width="2"/>
<polyline points="2325.6,957.5 2333.1,965 2325.6,972.5" stroke-width="2"/>
<line x1="2340" y1="954.5" x2="2381.6" y2="954.5" stroke-width="1"/>
<polyline points="2117.5,979.5 2117.5,1022.5 2088.5,1022.5" stroke-width="1"/>
<line x1="2088" y1="791.4" x2="2088" y2="1079.7" stroke-width="2"/>
<circle cx="2088" cy="1022.6" r="6.5" fill="#000" stroke="none"/>
<line x1="2066.5" y1="907.2" x2="2066.5" y2="1252.8" stroke-width="1"/>
<circle cx="2066.3" cy="964.8" r="6.5" fill="#000" stroke="none"/>
<circle cx="2066.3" cy="1144.8" r="6.5" fill="#000" stroke="none"/>
<circle cx="2066.3" cy="1187.8" r="6.5" fill="#000" stroke="none"/>
<polyline points="2088,1080 2140,1080" stroke-width="2"/>
<polyline points="2139.9,1079.7 2145.7,1090.9 2157.3,1068.5 2168.9,1090.9 2180.5,1068.5 2192.1,1090.9 2203.7,1068.5 2209.5,1079.7" stroke-width="1.9"/>
<line x1="2209.5" y1="1080" x2="2265" y2="1080" stroke-width="2"/>
<polygon points="2272,1079.7 2264.8,1072.9 2264.8,1087" fill="#000" stroke="none"/>
<polyline points="2282.4,1051 2271.2,1056.8 2293.6,1068.4 2271.2,1080 2293.6,1091.6 2271.2,1103.2 2282.4,1109" stroke-width="1.9"/>
<polyline points="2282.5,1051.5 2282.5,1022.5 2333.5,1022.5" stroke-width="1"/>
<polyline points="2325.6,1015.1 2333.1,1022.6 2325.6,1030.1" stroke-width="2"/>
<polyline points="2282,1109 2282,1145 2066,1145" stroke-width="2"/>
<line x1="2340" y1="1012" x2="2366" y2="1012" stroke-width="2"/>
<line x1="2066.3" y1="1188" x2="2139.9" y2="1188" stroke-width="2"/>
<polyline points="2139.9,1187.8 2145.7,1199 2157.3,1176.6 2168.9,1199 2180.5,1176.6 2192.1,1199 2203.7,1176.6 2209.5,1187.8" stroke-width="1.9"/>
<line x1="2209.5" y1="1188" x2="2333.1" y2="1188" stroke-width="2"/>
<polyline points="2325.6,1180.3 2333.1,1187.8 2325.6,1195.3" stroke-width="2"/>
<polyline points="2066,1253 2140,1253" stroke-width="2"/>
<polyline points="2139.9,1252.8 2145.7,1264 2157.3,1241.6 2168.9,1264 2180.5,1241.6 2192.1,1264 2203.7,1241.6 2209.5,1252.8" stroke-width="1.9"/>
<line x1="2209.5" y1="1253" x2="2333.1" y2="1253" stroke-width="2"/>
<polyline points="2325.6,1245.3 2333.1,1252.8 2325.6,1260.3" stroke-width="2"/>
<polyline points="1483.3,1015.5 1490.3,1022.5 1483.3,1029.5" stroke-width="2"/>
<polyline points="1490.5,1022.5 1533.5,1022.5 1533.5,1085.5" stroke-width="1"/>
<polygon points="1521.6,1085.2 1545.9,1085.2 1533.4,1102.4" fill="#000" stroke="none"/>
<line x1="1521.9" y1="1103" x2="1544.7" y2="1103" stroke-width="2"/>
<polyline points="1545.5,1091.2 1551.4,1084.3 1550.2,1089.5 1555.5,1084.5" stroke-width="1.6"/>
<polygon points="1557.2,1082 1553.2,1083 1556.9,1087" fill="#000" stroke="none"/>
<polyline points="1545.5,1098.5 1551.4,1091.6 1550.2,1096.8 1555.5,1091.8" stroke-width="1.6"/>
<polygon points="1557.2,1089.3 1553.2,1090.3 1556.9,1094.3" fill="#000" stroke="none"/>
<line x1="1533.5" y1="1102.4" x2="1533.5" y2="1167.5" stroke-width="1"/>
<polyline points="1533.4,1167.5 1522.2,1173.3 1544.6,1184.9 1522.2,1196.5 1544.6,1208.1 1522.2,1219.7 1544.6,1231.3 1533.4,1237.1" stroke-width="1.9"/>
<line x1="1533.5" y1="1237" x2="1533.5" y2="1287.4" stroke-width="1"/>
<line x1="1502" y1="1296.3" x2="1502" y2="1324.9" stroke-width="1.8"/>
<polyline points="1501.9,1301.2 1529.1,1287.4 1533.5,1287.4" stroke-width="1.5"/>
<polyline points="1501.9,1319 1517.2,1324.9" stroke-width="1.5"/>
<polygon points="1518.5,1325.5 1506.8,1326 1510.3,1317.6" fill="#000" stroke="none"/>
<line x1="1519" y1="1310" x2="1519" y2="1338.9" stroke-width="1.8"/>
<polyline points="1518.9,1314.7 1533.3,1307.5 1533.3,1287.4" stroke-width="1.5"/>
<polyline points="1518.9,1335 1533.3,1340" stroke-width="1.5"/>
<polygon points="1534.5,1340.5 1524,1341.5 1527.5,1333.5" fill="#000" stroke="none"/>
<line x1="1533.5" y1="1340" x2="1533.5" y2="1483.1" stroke-width="1"/>
<circle cx="1533.3" cy="1439.7" r="6.5" fill="#000" stroke="none"/>
<line x1="1504.3" y1="1483" x2="1562.3" y2="1483" stroke-width="2"/>
<line x1="1511.8" y1="1497.5" x2="1554.8" y2="1497.5" stroke-width="1"/>
<line x1="1526.1" y1="1509" x2="1540.5" y2="1509" stroke-width="2"/>
<polyline points="1037,1159.6 1043.8,1166.6 1037,1173.6" stroke-width="2"/>
<line x1="1044.2" y1="1166.5" x2="1114.1" y2="1166.5" stroke-width="1"/>
<polygon points="1114.1,1154.2 1132,1166.6 1114.1,1179" fill="#000" stroke="none"/>
<line x1="1132" y1="1154.8" x2="1132" y2="1178.4" stroke-width="1.5"/>
<line x1="1132" y1="1166.5" x2="1187.8" y2="1166.5" stroke-width="1"/>
<polyline points="1037,1231.4 1043.8,1238.4 1037,1245.4" stroke-width="2"/>
<line x1="1044.2" y1="1238.5" x2="1114.1" y2="1238.5" stroke-width="1"/>
<polygon points="1114.1,1226 1132,1238.4 1114.1,1250.8" fill="#000" stroke="none"/>
<line x1="1132" y1="1226.6" x2="1132" y2="1250.2" stroke-width="1.5"/>
<line x1="1132" y1="1238.5" x2="1187.8" y2="1238.5" stroke-width="1"/>
<polyline points="1037,1303.6 1043.8,1310.6 1037,1317.6" stroke-width="2"/>
<line x1="1044.2" y1="1310.5" x2="1114.1" y2="1310.5" stroke-width="1"/>
<polygon points="1114.1,1298.2 1132,1310.6 1114.1,1323" fill="#000" stroke="none"/>
<line x1="1132" y1="1298.8" x2="1132" y2="1322.4" stroke-width="1.5"/>
<line x1="1132" y1="1310.5" x2="1187.8" y2="1310.5" stroke-width="1"/>
<line x1="1188" y1="1166.6" x2="1188" y2="1310.6" stroke-width="2"/>
<circle cx="1187.8" cy="1238.4" r="6.5" fill="#000" stroke="none"/>
<circle cx="1187.8" cy="1310.6" r="6.5" fill="#000" stroke="none"/>
<line x1="1187.8" y1="1310.5" x2="1218.1" y2="1310.5" stroke-width="1"/>
<polyline points="1218.1,1310.5 1223.9,1321.7 1235.5,1299.3 1247.1,1321.7 1258.7,1299.3 1270.3,1321.7 1281.9,1299.3 1287.7,1310.5" stroke-width="1.9"/>
<line x1="1287.7" y1="1310.5" x2="1361.9" y2="1310.5" stroke-width="1"/>
<circle cx="1324.7" cy="1310.4" r="6.5" fill="#000" stroke="none"/>
<polyline points="1361.9,1310.5 1367.7,1321.7 1379.3,1299.3 1390.9,1321.7 1402.5,1299.3 1414.1,1321.7 1425.7,1299.3 1431.5,1310.5" stroke-width="1.9"/>
<line x1="1431.5" y1="1310.5" x2="1501.9" y2="1310.5" stroke-width="1"/>
<circle cx="1468.6" cy="1310.4" r="6.5" fill="#000" stroke="none"/>
<line x1="1325" y1="1310.4" x2="1325" y2="1376.4" stroke-width="2"/>
<line x1="1307.9" y1="1376.5" x2="1341.9" y2="1376.5" stroke-width="1"/>
<line x1="1307.9" y1="1388" x2="1341.9" y2="1388" stroke-width="2"/>
<polyline points="1325,1388 1325,1440 1533,1440" stroke-width="2"/>
<circle cx="1468.6" cy="1439.7" r="6.5" fill="#000" stroke="none"/>
<line x1="1469" y1="1310.4" x2="1469" y2="1348" stroke-width="2"/>
<polyline points="1468.6,1348 1479.8,1353.8 1457.4,1365.4 1479.8,1377 1457.4,1388.6 1479.8,1400.2 1457.4,1411.8 1468.6,1417.6" stroke-width="1.9"/>
<line x1="1469" y1="1417.6" x2="1469" y2="1439.7" stroke-width="2"/>
<rect x="201.2" y="1353.5" width="43.8" height="36" stroke-width="1.6" fill="none"/>
<path d="M215.65,1364.95 A10.4,10.4 0 0 0 230.35,1379.65 Z" fill="url(#hatch)" stroke="none"/>
<circle cx="223" cy="1372.3" r="10.4" stroke-width="1.7" fill="none"/>
<line x1="215.65" y1="1364.95" x2="230.35" y2="1379.65" stroke-width="1.5"/>
<line x1="208.9" y1="1389.5" x2="208.9" y2="1418.3" stroke-width="1.6"/>
<line x1="237.5" y1="1389.5" x2="237.5" y2="1418.3" stroke-width="1"/>
<rect x="266.3" y="1353.5" width="43.8" height="36" stroke-width="1.6" fill="none"/>
<path d="M280.75,1364.95 A10.4,10.4 0 0 0 295.45,1379.65 Z" fill="url(#hatch)" stroke="none"/>
<circle cx="288.1" cy="1372.3" r="10.4" stroke-width="1.7" fill="none"/>
<line x1="280.75" y1="1364.95" x2="295.45" y2="1379.65" stroke-width="1.5"/>
<line x1="274" y1="1389.5" x2="274" y2="1418.3" stroke-width="1.6"/>
<line x1="302.5" y1="1389.5" x2="302.5" y2="1418.3" stroke-width="1"/>
<rect x="330.5" y="1353.5" width="43.8" height="36" stroke-width="1.6" fill="none"/>
<path d="M344.95,1364.95 A10.4,10.4 0 0 0 359.65,1379.65 Z" fill="url(#hatch)" stroke="none"/>
<circle cx="352.3" cy="1372.3" r="10.4" stroke-width="1.7" fill="none"/>
<line x1="344.95" y1="1364.95" x2="359.65" y2="1379.65" stroke-width="1.5"/>
<line x1="338.2" y1="1389.5" x2="338.2" y2="1418.3" stroke-width="1.6"/>
<line x1="366.5" y1="1389.5" x2="366.5" y2="1418.3" stroke-width="1"/>
<rect x="395.5" y="1353.5" width="43.8" height="36" stroke-width="1.6" fill="none"/>
<path d="M409.95,1364.95 A10.4,10.4 0 0 0 424.65,1379.65 Z" fill="url(#hatch)" stroke="none"/>
<circle cx="417.3" cy="1372.3" r="10.4" stroke-width="1.7" fill="none"/>
<line x1="409.95" y1="1364.95" x2="424.65" y2="1379.65" stroke-width="1.5"/>
<line x1="403.2" y1="1389.5" x2="403.2" y2="1418.3" stroke-width="1.6"/>
<line x1="431.5" y1="1389.5" x2="431.5" y2="1418.3" stroke-width="1"/>
<rect x="460.6" y="1353.5" width="43.8" height="36" stroke-width="1.6" fill="none"/>
<path d="M475.05,1364.95 A10.4,10.4 0 0 0 489.75,1379.65 Z" fill="url(#hatch)" stroke="none"/>
<circle cx="482.4" cy="1372.3" r="10.4" stroke-width="1.7" fill="none"/>
<line x1="475.05" y1="1364.95" x2="489.75" y2="1379.65" stroke-width="1.5"/>
<line x1="468.3" y1="1389.5" x2="468.3" y2="1418.3" stroke-width="1.6"/>
<line x1="496.5" y1="1389.5" x2="496.5" y2="1418.3" stroke-width="1"/>
<rect x="525.3" y="1353.5" width="43.8" height="36" stroke-width="1.6" fill="none"/>
<path d="M539.75,1364.95 A10.4,10.4 0 0 0 554.45,1379.65 Z" fill="url(#hatch)" stroke="none"/>
<circle cx="547.1" cy="1372.3" r="10.4" stroke-width="1.7" fill="none"/>
<line x1="539.75" y1="1364.95" x2="554.45" y2="1379.65" stroke-width="1.5"/>
<line x1="533" y1="1389.5" x2="533" y2="1418.3" stroke-width="1.6"/>
<line x1="561.5" y1="1389.5" x2="561.5" y2="1418.3" stroke-width="1"/>
<rect x="590.5" y="1353.5" width="43.8" height="36" stroke-width="1.6" fill="none"/>
<path d="M604.95,1364.95 A10.4,10.4 0 0 0 619.65,1379.65 Z" fill="url(#hatch)" stroke="none"/>
<circle cx="612.3" cy="1372.3" r="10.4" stroke-width="1.7" fill="none"/>
<line x1="604.95" y1="1364.95" x2="619.65" y2="1379.65" stroke-width="1.5"/>
<line x1="598.2" y1="1389.5" x2="598.2" y2="1418.3" stroke-width="1.6"/>
<line x1="626.5" y1="1389.5" x2="626.5" y2="1418.3" stroke-width="1"/>
<line x1="208.9" y1="1418.5" x2="626.2" y2="1418.5" stroke-width="1"/>
<circle cx="237.4" cy="1418.3" r="6.5" fill="#000" stroke="none"/>
<circle cx="274" cy="1418.3" r="6.5" fill="#000" stroke="none"/>
<circle cx="302.5" cy="1418.3" r="6.5" fill="#000" stroke="none"/>
<circle cx="338.2" cy="1418.3" r="6.5" fill="#000" stroke="none"/>
<circle cx="366.7" cy="1418.3" r="6.5" fill="#000" stroke="none"/>
<circle cx="403.2" cy="1418.3" r="6.5" fill="#000" stroke="none"/>
<circle cx="431.7" cy="1418.3" r="6.5" fill="#000" stroke="none"/>
<circle cx="468.3" cy="1418.3" r="6.5" fill="#000" stroke="none"/>
<circle cx="496.8" cy="1418.3" r="6.5" fill="#000" stroke="none"/>
<circle cx="533" cy="1418.3" r="6.5" fill="#000" stroke="none"/>
<circle cx="561.5" cy="1418.3" r="6.5" fill="#000" stroke="none"/>
<circle cx="598.2" cy="1418.3" r="6.5" fill="#000" stroke="none"/>
<line x1="403" y1="1418.3" x2="403" y2="1468.5" stroke-width="2"/>
<line x1="374" y1="1468" x2="431.6" y2="1468" stroke-width="2"/>
<line x1="381.9" y1="1483" x2="424.8" y2="1483" stroke-width="2"/>
<line x1="395.8" y1="1495" x2="409.8" y2="1495" stroke-width="2"/>
<line x1="2016" y1="1317.4" x2="2016" y2="1548" stroke-width="2"/>
<line x1="2016" y1="1317.5" x2="2412" y2="1317.5" stroke-width="1"/>
<line x1="2016" y1="1435.5" x2="2412" y2="1435.5" stroke-width="1"/>
<line x1="2016" y1="1519" x2="2412" y2="1519" stroke-width="2"/>
<line x1="2045" y1="1519" x2="2045" y2="1548" stroke-width="2"/>
<line x1="2213" y1="1519" x2="2213" y2="1548" stroke-width="2"/>
<polygon points="2085.3,1366.2 2105.9,1327.6 2147.4,1327.6 2135.9,1348.2 2132.4,1350.9 2103.5,1350.9 2095.3,1366.2" stroke-width="1.5"/>
<polygon points="2112.1,1334.7 2136.2,1334.7 2130,1345 2106.8,1345" stroke-width="1.5"/>
<polygon points="2130,1366.2 2150.9,1327.6 2197.1,1327.6 2192.9,1336.5 2157.9,1336.5 2154.7,1343.2 2184.4,1343.2 2180,1350.6 2149.7,1350.6 2145.3,1357.6 2180.3,1357.6 2175.9,1366.2" stroke-width="1.5"/>
<polygon points="2180.6,1366.2 2201.8,1327.6 2208.3,1327.6 2220,1366.2" stroke-width="1.5"/>
<polygon points="2202.6,1337.9 2207.5,1355 2194.7,1355" stroke-width="1.5"/>
<polygon points="2212.1,1327.6 2220.6,1327.6 2229.1,1353.5 2245,1327.6 2252.9,1327.6 2232.1,1366.2 2223.2,1366.2" stroke-width="1.5"/>
<polygon points="2235.3,1366.2 2256.2,1327.6 2295,1327.6 2290.9,1336.2 2260.6,1336.2 2256.8,1343.2 2286.5,1343.2 2282.1,1350.9 2253.5,1350.9 2249.7,1357.6 2291.2,1357.6 2286.8,1366.2" stroke-width="1.5"/>
<polygon points="2291.8,1366.2 2297.9,1350.6 2293.8,1336.5 2297.9,1327.6 2304.1,1344.4 2325.6,1327.6 2339.4,1327.6 2303.8,1355 2299.7,1366.2" stroke-width="1.5"/>
</g>
</svg>
</body></html>
